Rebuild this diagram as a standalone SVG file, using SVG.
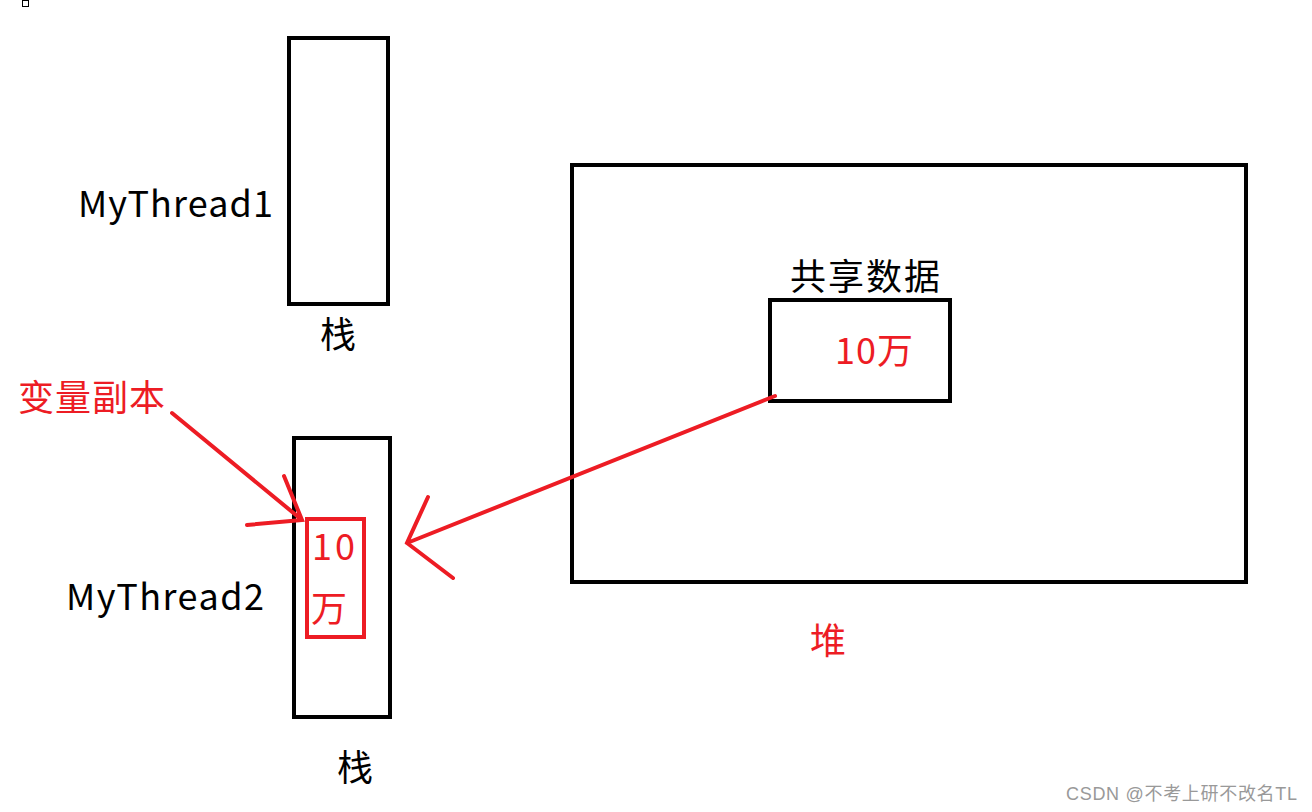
<svg xmlns="http://www.w3.org/2000/svg" width="1312" height="812" viewBox="0 0 1312 812">
<style>
.box{fill:none;stroke:#000;stroke-width:4}
.rbox{fill:none;stroke:#ed1c24;stroke-width:4}
.t{font-family:"Microsoft YaHei","Noto Sans CJK SC","Liberation Sans",sans-serif;font-size:36px;fill:#000}
.r{fill:#ed1c24}
.ln{stroke:#ed1c24;stroke-width:4;stroke-linecap:round;fill:none}
.wm{font-family:"Liberation Sans","Noto Sans CJK SC",sans-serif;font-size:18px;fill:#999}
</style>
<rect x="0" y="0" width="1312" height="812" fill="#fff"/>
<rect x="22.5" y="0.5" width="6" height="6" fill="none" stroke="#000" stroke-width="1"/>
<g id="stack1">
<rect class="box" x="289" y="38" width="99" height="266"/>
<text class="t" x="78" y="217" textLength="195">MyThread1</text>
<text class="t" x="320" y="348">栈</text>
</g>
<g id="heap">
<rect class="box" x="572" y="165" width="674" height="417"/>
<text class="t r" x="810" y="654">堆</text>
</g>
<g id="shared">
<text class="t" x="790" y="290" textLength="150">共享数据</text>
<rect class="box" x="770" y="300" width="180" height="101"/>
<text class="t r" x="835" y="364" textLength="78">10万</text>
</g>
<g id="stack2">
<rect class="box" x="294" y="438" width="96" height="279"/>
<text class="t" x="66" y="610" textLength="198">MyThread2</text>
<text class="t" x="337" y="781">栈</text>
</g>
<g id="copy">
<rect class="rbox" x="307" y="519" width="57" height="118"/>
<text class="t r" x="312" y="560" textLength="43">10</text>
<text class="t r" x="311" y="622">万</text>
</g>
<g id="copy-label">
<text class="t r" x="18" y="411" textLength="147">变量副本</text>
</g>
<g id="connectors">
<path class="ln" d="M775,396 L407,543 M428,497 L407,543 L453,578"/>
<path class="ln" d="M172,413 L302,520 M284,476 L302,520 L247,525"/>
</g>
<text class="wm" x="1066" y="800" textLength="231">CSDN @不考上研不改名TL</text>
</svg>
